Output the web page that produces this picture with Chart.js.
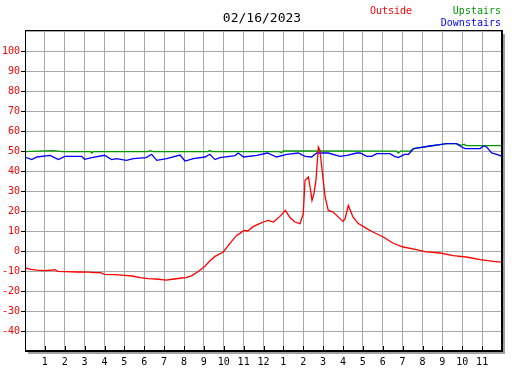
<!DOCTYPE html>
<html>
<head>
<meta charset="utf-8">
<script src="https://cdn.jsdelivr.net/npm/chart.js@4.4.0/dist/chart.umd.min.js"></script>
<style>
  body { margin: 0; background: #fff; }
  #wrap { width: 527px; height: 370px; }
</style>
</head>
<body>
<div id="wrap"><canvas id="tempChart" width="527" height="370"></canvas></div>
<script>
// Chart data (hours since midnight, degrees)
const chartTitle = '02/16/2023';

const outsideHours = [0, 0.3, 0.6, 1, 1.4, 1.5, 1.65, 2, 2.6, 3.2, 3.5, 3.8, 4, 4.5, 5, 5.4, 5.8, 6.2, 6.6, 7.1, 7.5, 7.9, 8.1, 8.4, 8.75, 9.05, 9.3, 9.56, 9.98, 10.3, 10.65, 10.8, 11, 11.2, 11.5, 11.8, 12, 12.24, 12.5, 12.83, 13.1, 13.33, 13.58, 13.84, 14, 14.09, 14.26, 14.37, 14.44, 14.54, 14.64, 14.76, 14.84, 14.93, 15.1, 15.26, 15.5, 15.85, 16, 16.1, 16.27, 16.5, 16.77, 17.2, 17.5, 18.03, 18.5, 19.03, 19.7, 20.13, 20.88, 21.55, 22.2, 22.9, 23.56, 24];
const outsideTemps = [-8.5, -9.2, -9.6, -9.8, -9.5, -9.3, -10.2, -10.3, -10.5, -10.6, -10.8, -10.8, -11.7, -11.8, -12.2, -12.5, -13.3, -13.8, -14, -14.6, -14, -13.5, -13.3, -12.3, -10, -7.6, -5, -2.7, -0.5, 3.7, 7.8, 8.7, 10.3, 10, 12.3, 13.7, 14.5, 15.3, 14.5, 17.3, 20.3, 16.7, 14.5, 13.7, 18.7, 35.4, 37, 30.3, 25.3, 28.7, 35.4, 52, 50.3, 42, 27, 20.3, 19.5, 16.2, 14.8, 16, 22.8, 17, 13.7, 11.2, 9.5, 7, 4, 2, 0.7, -0.3, -1, -2.3, -3, -4.3, -5.2, -5.6];

const downHours = [0, 0.34, 0.6, 1.26, 1.68, 2, 2.85, 3, 3.36, 4, 4.36, 4.6, 5.1, 5.45, 6.1, 6.37, 6.63, 7.13, 7.8, 8.05, 8.47, 9.06, 9.3, 9.56, 9.81, 10.57, 10.73, 11, 11.66, 12.2, 12.66, 13.17, 13.75, 14.09, 14.42, 14.68, 15.26, 15.85, 16.2, 16.7, 16.86, 17.2, 17.44, 17.7, 18.36, 18.6, 18.78, 19.1, 19.3, 19.55, 19.87, 20.38, 20.88, 21.2, 21.7, 21.97, 22.14, 22.9, 23.06, 23.23, 23.48, 23.73, 24];
const downTemps = [47, 45.7, 47, 47.85, 45.7, 47.35, 47.35, 45.85, 46.7, 47.85, 45.7, 46.2, 45.35, 46.2, 46.7, 48.35, 45.35, 46.2, 48, 45, 46.2, 47, 48.35, 45.7, 46.7, 47.7, 49, 47, 47.85, 49, 47, 48.35, 49, 47.35, 47, 49, 49, 47.35, 47.85, 49, 49, 47.35, 47.35, 48.7, 48.7, 47.35, 46.7, 48.35, 48.35, 51.2, 51.7, 52.5, 53.2, 53.7, 53.7, 52, 51.2, 51.2, 52.5, 52, 49, 48.35, 47.35];

const upHours = [0, 1.4, 1.9, 3.3, 3.36, 3.45, 6.2, 6.3, 6.45, 9.2, 9.3, 9.4, 12.8, 12.9, 13, 18.7, 18.78, 18.9, 19.37, 19.55, 19.87, 20.38, 20.88, 21.2, 21.7, 21.97, 22.1, 22.2, 24];
const upTemps = [49.7, 50.2, 49.7, 49.7, 49, 49.7, 49.7, 50.2, 49.7, 49.7, 50.3, 49.7, 49.7, 49.1, 50, 49.9, 49, 49.9, 49.9, 51.2, 51.7, 52.5, 53.2, 53.7, 53.7, 52.8, 53.4, 52.7, 52.7];

const hourLabels = ['', '1', '2', '3', '4', '5', '6', '7', '8', '9', '10', '11', '12', '1', '2', '3', '4', '5', '6', '7', '8', '9', '10', '11', ''];

const toPoints = (xs, ys) => xs.map((x, i) => ({ x: x, y: ys[i] }));

const FONT = 'DejaVu Sans Mono';

// Title, legend, borders and inside x tick marks
const framePlugin = {
    id: 'frame',
    afterDraw(chart) {
        const c = chart.ctx;
        const a = chart.chartArea;
        const xs = chart.scales.x;
        c.save();

        // inside hour ticks
        c.strokeStyle = '#000';
        c.lineWidth = 1;
        for (let h = 1; h < 24; h++) {
            const px = Math.round(xs.getPixelForValue(h)) + 0.5;
            c.beginPath();
            c.moveTo(px, a.bottom - 5);
            c.lineTo(px, a.bottom);
            c.stroke();
        }

        // shadow
        c.fillStyle = '#a0a0a0';
        c.fillRect(a.right + 1, a.top + 3, 2, a.bottom - a.top);
        c.fillRect(a.left + 3, a.bottom + 1, a.right - a.left, 2);

        // border
        c.fillStyle = '#000';
        c.fillRect(a.left, a.top - 1, a.right - a.left + 1, 1);
        c.fillRect(a.left, a.top - 1, 1, a.bottom - a.top + 1);
        c.fillRect(a.right - 1, a.top - 1, 2, a.bottom - a.top + 2);
        c.fillRect(a.left, a.bottom - 1, a.right - a.left + 1, 2);

        // title
        c.font = '13px "' + FONT + '"';
        c.fillStyle = '#000';
        c.textAlign = 'center';
        c.textBaseline = 'middle';
        c.fillText(chartTitle, 262, 19);

        // legend
        const ds = chart.data.datasets;
        c.font = '10px "' + FONT + '"';
        c.textAlign = 'left';
        c.fillStyle = ds[0].borderColor;
        c.fillText(ds[0].label, 370, 11);
        c.textAlign = 'right';
        c.fillStyle = ds[2].borderColor;
        c.fillText(ds[2].label, 501, 11);
        c.fillStyle = ds[1].borderColor;
        c.fillText(ds[1].label, 501, 23);
        c.restore();
    }
};

new Chart(document.getElementById('tempChart'), {
    type: 'line',
    data: {
        datasets: [
            { label: 'Outside', data: toPoints(outsideHours, outsideTemps), borderColor: '#ff0000' },
            { label: 'Downstairs', data: toPoints(downHours, downTemps), borderColor: '#0000ff' },
            { label: 'Upstairs', data: toPoints(upHours, upTemps), borderColor: '#009900' }
        ]
    },
    options: {
        responsive: false,
        animation: false,
        parsing: true,
        elements: {
            line: { borderWidth: 1.3, tension: 0, fill: false },
            point: { radius: 0 }
        },
        layout: { padding: { top: 31, right: 25, left: 0, bottom: 0 } },
        plugins: {
            legend: { display: false },
            title: { display: false },
            tooltip: { enabled: false }
        },
        scales: {
            x: {
                type: 'linear',
                min: 0,
                max: 24,
                afterFit: (s) => { s.height = 19; },
                ticks: {
                    stepSize: 1,
                    autoSkip: false,
                    maxRotation: 0,
                    padding: 5,
                    color: '#000',
                    font: { family: FONT, size: 10 },
                    callback: (v) => hourLabels[v] || ''
                },
                grid: { color: '#a8a8a8', drawTicks: false },
                border: { display: false }
            },
            y: {
                min: -50,
                max: 110,
                afterFit: (s) => { s.width = 25; },
                ticks: {
                    stepSize: 10,
                    padding: 1,
                    color: '#ff0000',
                    font: { family: FONT, size: 10 },
                    callback: (v) => (v < -40 || v > 100) ? '' : v
                },
                grid: {
                    color: '#a8a8a8',
                    tickLength: 4,
                    tickColor: (ctx) => (ctx.tick && (ctx.tick.value < -40 || ctx.tick.value > 100)) ? 'rgba(0,0,0,0)' : '#000'
                },
                border: { display: false }
            }
        }
    },
    plugins: [framePlugin]
});
</script>
</body>
</html>
